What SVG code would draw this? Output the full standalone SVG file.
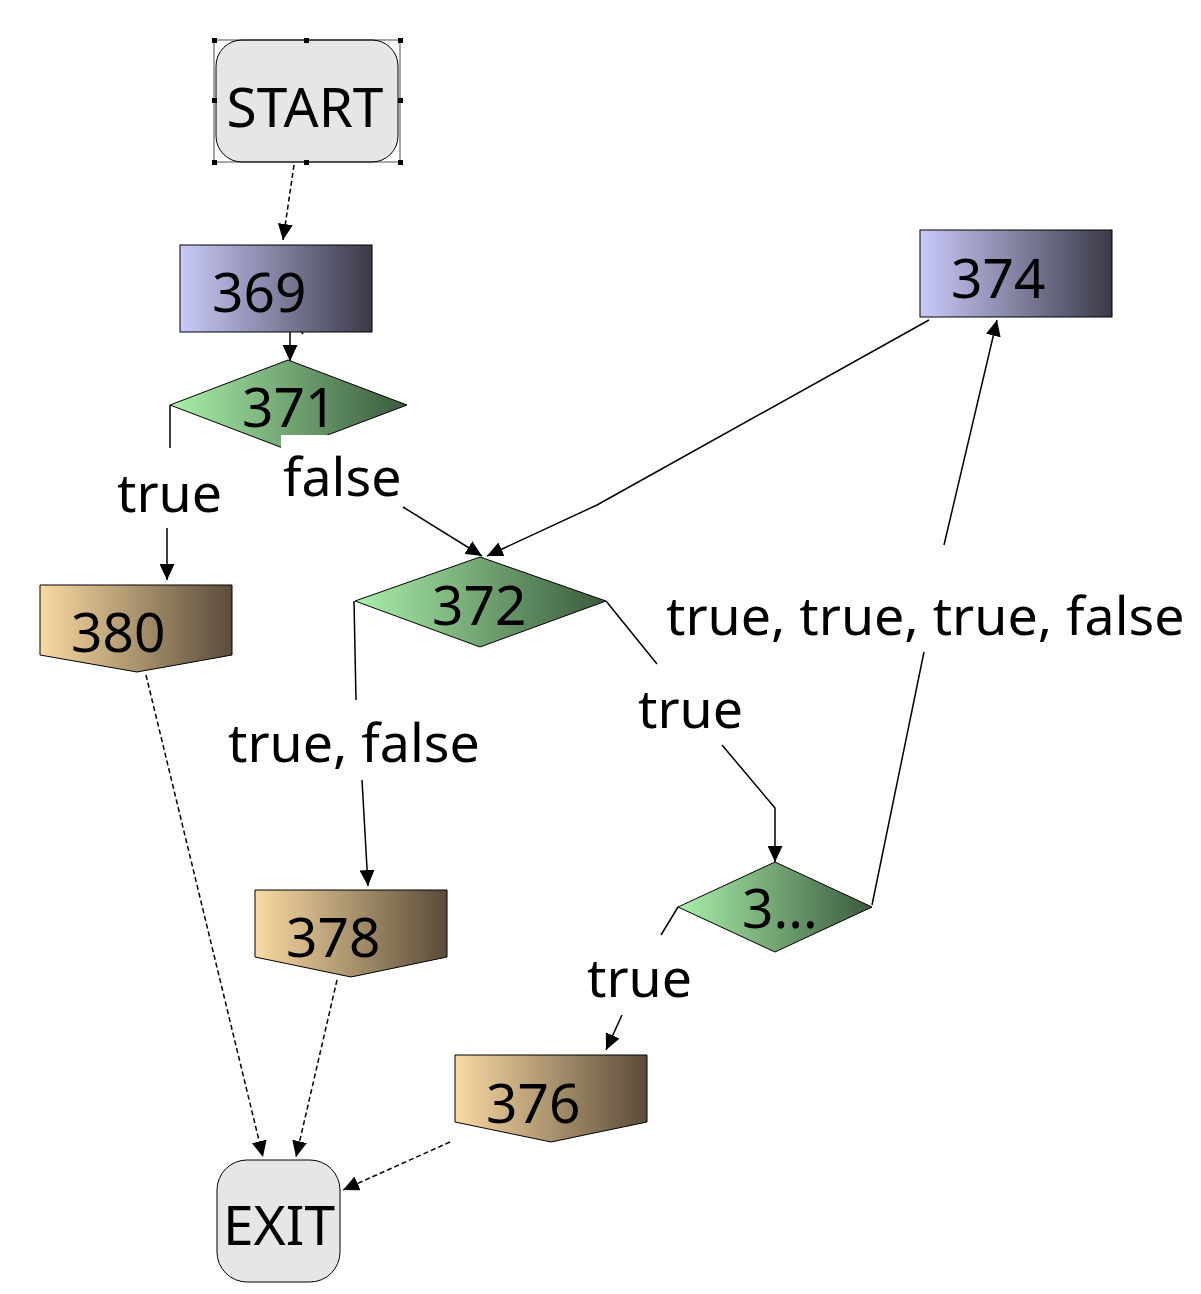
<svg xmlns="http://www.w3.org/2000/svg" width="1201" height="1294" viewBox="0 0 1201 1294">
<defs>
<linearGradient id="gBlue" x1="0" y1="0" x2="1" y2="0"><stop offset="0" stop-color="#cacafa"/><stop offset="1" stop-color="#3a3a48"/></linearGradient>
<linearGradient id="gGreen" x1="0" y1="0" x2="1" y2="0"><stop offset="0" stop-color="#aaf0aa"/><stop offset="1" stop-color="#3a5a3c"/></linearGradient>
<linearGradient id="gTan" x1="0" y1="0" x2="1" y2="0"><stop offset="0" stop-color="#fadaa2"/><stop offset="1" stop-color="#5a4c3a"/></linearGradient>
<marker id="arr" markerUnits="userSpaceOnUse" markerWidth="17" markerHeight="15" refX="16" refY="7.5" orient="auto"><path d="M0,0 L16,7.5 L0,15 Z" fill="#000"/></marker>
</defs>
<style>
text{font-family:"Noto Sans","Open Sans","DejaVu Sans",sans-serif;font-size:55px;fill:#000}
.lbl{font-size:53.7px}
.term{fill:#e6e6e6;stroke:#000;stroke-width:1}
.blk{stroke:#000;stroke-width:1}
.e{fill:none;stroke:#000;stroke-width:1.5}
.d{fill:none;stroke:#000;stroke-width:1.5;stroke-dasharray:5,3}
.h{fill:#000}
</style>
<rect width="1201" height="1294" fill="#fff"/>
<g id="connectors">
<path class="d" d="M294,165 L283,240" marker-end="url(#arr)"/>
<path class="e" d="M290,313 L303,334"/>
<path class="e" d="M290,313 L290,361" marker-end="url(#arr)"/>
<path class="e" d="M170,405 L170,448"/>
<path class="e" d="M167,528 L167,580" marker-end="url(#arr)"/>
<path class="e" d="M403,507 L482,556" marker-end="url(#arr)"/>
<path class="e" d="M929,320 L597,505 L487,556" marker-end="url(#arr)"/>
<path class="e" d="M354,601 L356,700"/>
<path class="e" d="M362,780 L368,886" marker-end="url(#arr)"/>
<path class="e" d="M606,601 L657,664"/>
<path class="e" d="M722,745 L775,808 L775,862" marker-end="url(#arr)"/>
<path class="e" d="M872,905 L924,652"/>
<path class="e" d="M944,545 L997,320" marker-end="url(#arr)"/>
<path class="e" d="M678,907 L661,935"/>
<path class="e" d="M622,1015 L606,1050" marker-end="url(#arr)"/>
<path class="d" d="M146,675 L263,1157" marker-end="url(#arr)"/>
<path class="d" d="M337,980 L296,1157" marker-end="url(#arr)"/>
<path class="d" d="M450,1142 L343,1190" marker-end="url(#arr)"/>
</g>
<g id="START">
<rect class="term" x="216" y="40" width="182" height="122" rx="26"/>
<rect x="214" y="40" width="186" height="122" fill="none" stroke="#000" stroke-width="0.7"/>
<rect class="h" x="212" y="38" width="5" height="5"/><rect class="h" x="304" y="38" width="5" height="5"/><rect class="h" x="398" y="38" width="5" height="5"/>
<rect class="h" x="212" y="98" width="5" height="5"/><rect class="h" x="398" y="98" width="5" height="5"/>
<rect class="h" x="212" y="160" width="5" height="5"/><rect class="h" x="304" y="160" width="5" height="5"/><rect class="h" x="398" y="160" width="5" height="5"/>
<text x="305" y="127" text-anchor="middle">START</text>
</g>
<g id="n369">
<rect class="blk" x="180" y="245" width="192" height="87" fill="url(#gBlue)"/>
<text x="212" y="312">369</text>
</g>
<g id="n371">
<path class="blk" d="M170,405 L288,360 L407,405 L288,450 Z" fill="url(#gGreen)"/>
<text x="242" y="427">371</text>
</g>
<g id="n374">
<rect class="blk" x="920" y="230" width="192" height="87" fill="url(#gBlue)"/>
<text x="951" y="298">374</text>
</g>
<g id="n372">
<path class="blk" d="M355,601 L480,557 L606,601 L480,647 Z" fill="url(#gGreen)"/>
<text x="432" y="625">372</text>
</g>
<g id="n3x">
<path class="blk" d="M678,907 L775,862 L872,907 L775,952 Z" fill="url(#gGreen)"/>
<text x="742" y="928">3...</text>
</g>
<g id="n380">
<path class="blk" d="M40,585 L232,585 L232,655 L137,672 L40,655 Z" fill="url(#gTan)"/>
<text x="71" y="652">380</text>
</g>
<g id="n378">
<path class="blk" d="M255,890 L447,890 L447,957 L351,977 L255,957 Z" fill="url(#gTan)"/>
<text x="286" y="957">378</text>
</g>
<g id="n376">
<path class="blk" d="M455,1055 L647,1055 L647,1122 L551,1142 L455,1122 Z" fill="url(#gTan)"/>
<text x="486" y="1123">376</text>
</g>
<g id="EXIT">
<rect class="term" x="217" y="1160" width="123" height="122" rx="30"/>
<text x="279" y="1245" text-anchor="middle">EXIT</text>
</g>
<g id="labels">
<text class="lbl" x="117" y="512">true</text>
<rect x="281" y="435" width="122" height="72" fill="#fff"/>
<text class="lbl" x="283" y="496">false</text>
<text class="lbl" x="228" y="762">true, false</text>
<text class="lbl" x="638" y="728">true</text>
<text class="lbl" x="666" y="635">true, true, true, false</text>
<text class="lbl" x="587" y="997">true</text>
</g>
</svg>
